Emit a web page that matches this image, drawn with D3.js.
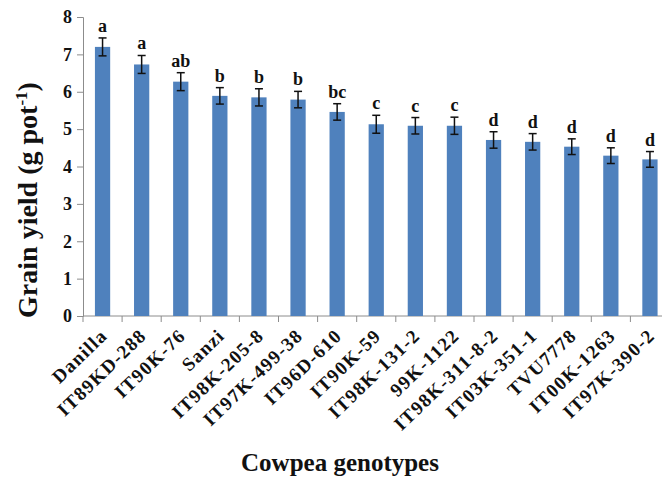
<!DOCTYPE html>
<html>
<head>
<meta charset="utf-8">
<script src="https://cdn.jsdelivr.net/npm/d3@7"></script>
<style>
  body { margin: 0; background: #fff; }
  text { font-family: "Liberation Serif", "Times New Roman", serif; font-weight: bold; }
</style>
</head>
<body>
<svg id="chart" width="662" height="479"></svg>
<script>
// data
var genotypes = ["Danilla", "IT89KD-288", "IT90K-76", "Sanzi", "IT98K-205-8", "IT97K-499-38",
  "IT96D-610", "IT90K-59", "IT98K-131-2", "99K-1122", "IT98K-311-8-2", "IT03K-351-1",
  "TVU7778", "IT00K-1263", "IT97K-390-2"];
var yields = [7.2, 6.73, 6.27, 5.89, 5.85, 5.79, 5.46, 5.13, 5.09, 5.09, 4.71, 4.66, 4.53, 4.29, 4.19];
var errs = [0.24, 0.24, 0.24, 0.22, 0.23, 0.22, 0.22, 0.24, 0.22, 0.23, 0.22, 0.22, 0.21, 0.21, 0.21];
var groups = ["a", "a", "ab", "b", "b", "b", "bc", "c", "c", "c", "d", "d", "d", "d", "d"];
var yTicks = [0, 1, 2, 3, 4, 5, 6, 7, 8];

var w = 662, h = 479;
var padLeft = 83, padTop = 17, axisY = 316;
var band = 39.1;

var svg = d3.select("#chart");

var xScale = d3.scaleBand()
  .domain(genotypes)
  .range([padLeft, padLeft + band * genotypes.length])
  .paddingInner(0.61)
  .paddingOuter(0.305);

var yScale = d3.scaleLinear()
  .domain([0, 8])
  .range([axisY, padTop]);

// y axis
var yAxis = d3.axisLeft(yScale).tickValues(yTicks).tickSize(6).tickFormat(d3.format("d"));
var gy = svg.append("g")
  .attr("transform", "translate(" + padLeft + ",0)")
  .call(yAxis);
gy.select(".domain").attr("stroke", "#8c8c8c");
gy.selectAll(".tick line").attr("stroke", "#8c8c8c");
gy.selectAll(".tick text")
  .attr("font-size", 18)
  .attr("font-family", "Liberation Serif")
  .attr("font-weight", "bold")
  .attr("fill", "#111")
  .attr("x", -11);

// x axis line + ticks at band edges
svg.append("line")
  .attr("x1", padLeft).attr("x2", w)
  .attr("y1", axisY).attr("y2", axisY)
  .attr("stroke", "#8c8c8c");
svg.selectAll(".xtick")
  .data(d3.range(genotypes.length + 1))
  .enter().append("line")
  .attr("class", "xtick")
  .attr("x1", function(i) { return padLeft + i * band; })
  .attr("x2", function(i) { return padLeft + i * band; })
  .attr("y1", axisY).attr("y2", axisY + 6)
  .attr("stroke", "#8c8c8c");

// bars
svg.selectAll(".bar")
  .data(yields)
  .enter().append("rect")
  .attr("class", "bar")
  .attr("x", function(d, i) { return xScale(genotypes[i]); })
  .attr("y", function(d) { return yScale(d); })
  .attr("width", xScale.bandwidth())
  .attr("height", function(d) { return axisY - yScale(d); })
  .attr("fill", "#4f81bd");

// error bars
var eb = svg.selectAll(".err")
  .data(yields)
  .enter().append("g")
  .attr("class", "err")
  .attr("stroke", "#111")
  .attr("stroke-width", 1.5);
eb.append("line")
  .attr("x1", function(d, i) { return xScale(genotypes[i]) + xScale.bandwidth() / 2; })
  .attr("x2", function(d, i) { return xScale(genotypes[i]) + xScale.bandwidth() / 2; })
  .attr("y1", function(d, i) { return yScale(d + errs[i]); })
  .attr("y2", function(d, i) { return yScale(d - errs[i]); });
[1, -1].forEach(function(s) {
  eb.append("line")
    .attr("x1", function(d, i) { return xScale(genotypes[i]) + xScale.bandwidth() / 2 - 4; })
    .attr("x2", function(d, i) { return xScale(genotypes[i]) + xScale.bandwidth() / 2 + 4; })
    .attr("y1", function(d, i) { return yScale(d + s * errs[i]); })
    .attr("y2", function(d, i) { return yScale(d + s * errs[i]); });
});

// letters
svg.selectAll(".grp")
  .data(groups)
  .enter().append("text")
  .attr("class", "grp")
  .attr("x", function(d, i) { return xScale(genotypes[i]) + xScale.bandwidth() / 2; })
  .attr("y", function(d, i) { return yScale(yields[i] + errs[i]) - 6; })
  .attr("text-anchor", "middle")
  .attr("font-size", 18)
  .attr("fill", "#111")
  .text(function(d) { return d; });

// category labels
svg.selectAll(".cat")
  .data(genotypes)
  .enter().append("text")
  .attr("class", "cat")
  .attr("transform", function(d) {
    return "translate(" + (xScale(d) + xScale.bandwidth() / 2 + 6) + "," + (axisY + 21) + ") rotate(-44)";
  })
  .attr("text-anchor", "end")
  .attr("font-size", 19)
  .attr("letter-spacing", 1.3)
  .attr("fill", "#111")
  .text(function(d) { return d; });

// axis titles
svg.append("text")
  .attr("x", 340).attr("y", 471)
  .attr("text-anchor", "middle")
  .attr("font-size", 25)
  .attr("fill", "#111")
  .text("Cowpea  genotypes");

var yt = svg.append("text")
  .attr("transform", "translate(37,200) rotate(-90)")
  .attr("text-anchor", "middle")
  .attr("font-size", 28)
  .attr("fill", "#111");
yt.append("tspan").text("Grain yield (g  pot");
yt.append("tspan").attr("dy", -10).attr("font-size", 17).text("-1");
yt.append("tspan").attr("dy", 10).text(")");
</script>
</body>
</html>
